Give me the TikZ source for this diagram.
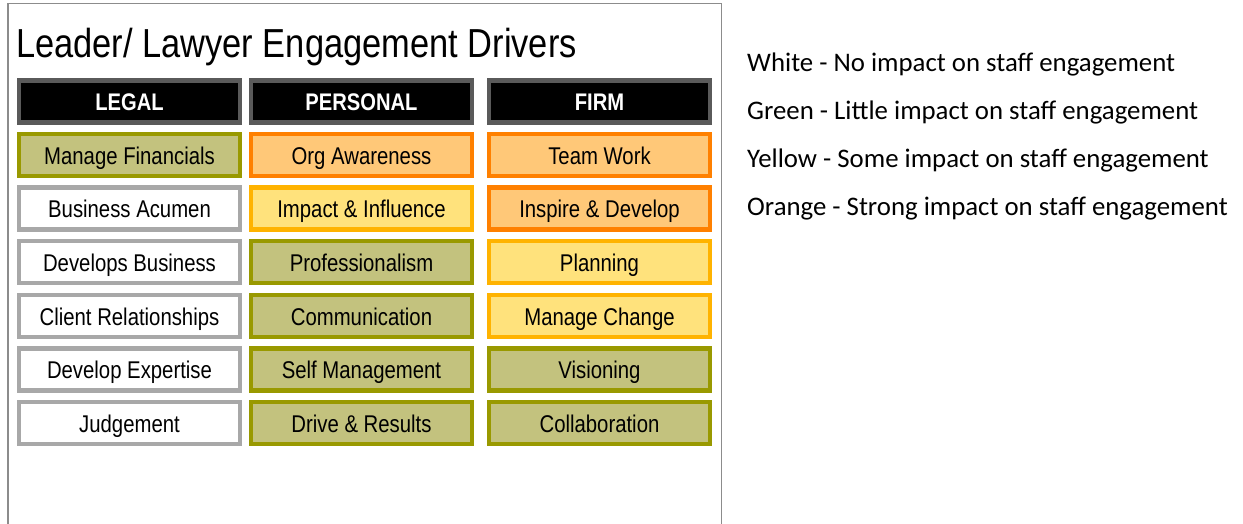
\documentclass[tikz,border=0pt]{standalone}
\usepackage{fontspec}
\setmainfont{Liberation Sans}
\newfontfamily\narrowfont[FakeStretch=0.84]{Liberation Sans}
\newfontfamily\titlefont[FakeStretch=0.85]{Liberation Sans}
\newfontfamily\legendfont{Carlito}

\definecolor{frameGray}{HTML}{8C8C8C}
\definecolor{headEdge}{HTML}{5A5A5A}
\definecolor{greenFill}{HTML}{C3C27E}
\definecolor{greenEdge}{HTML}{999900}
\definecolor{orangeFill}{HTML}{FFC878}
\definecolor{orangeEdge}{HTML}{FF8000}
\definecolor{yellowFill}{HTML}{FFE27C}
\definecolor{yellowEdge}{HTML}{FFB300}
\definecolor{whiteEdge}{HTML}{A8A8A8}

\tikzset{
  cell/.style={rectangle, line width=4.5pt, minimum width=221pt, minimum height=42pt,
    text height=18.5pt, text depth=0pt, inner sep=0pt,
    font=\narrowfont\fontsize{24.2}{24.2}\selectfont, text=black},
  headbox/.style={cell, fill=black, draw=headEdge, text=white,
    font=\narrowfont\bfseries\fontsize{24}{24}\selectfont},
  nobox/.style={cell, fill=white, draw=whiteEdge},
  greenbox/.style={cell, fill=greenFill, draw=greenEdge},
  orangebox/.style={cell, fill=orangeFill, draw=orangeEdge},
  yellowbox/.style={cell, fill=yellowFill, draw=yellowEdge},
  legendline/.style={anchor=base west, inner sep=0pt,
    font=\legendfont\fontsize{26.8}{26.8}\selectfont},
}

\begin{document}
\begin{tikzpicture}[x=1pt, y=-1pt]
  \useasboundingbox (0,0) rectangle (1243,524);

  % open frame around the driver table
  \draw[frameGray, line width=1.6pt] (8,524) -- (8,3.5) -- (721.5,3.5) -- (721.5,524);

  % title
  \node[anchor=base west, inner sep=0pt, font=\titlefont\fontsize{40.5}{40.5}\selectfont]
    (title) at (16,57.5) {Leader/ Lawyer Engagement Drivers};

  % column headers
  \node[headbox] (hLegal)    at (129.5,101.5) {LEGAL};
  \node[headbox] (hPersonal) at (361.5,101.5) {PERSONAL};
  \node[headbox] (hFirm)     at (599.5,101.5) {FIRM};

  % LEGAL column
  \node[greenbox] (l1) at (129.5,154.9) {Manage Financials};
  \node[nobox]    (l2) at (129.5,208.6) {Business Acumen};
  \node[nobox]    (l3) at (129.5,262.2) {Develops Business};
  \node[nobox]    (l4) at (129.5,315.9) {Client Relationships};
  \node[nobox]    (l5) at (129.5,369.5) {Develop Expertise};
  \node[nobox]    (l6) at (129.5,423.2) {Judgement};

  % PERSONAL column
  \node[orangebox] (p1) at (361.5,154.9) {Org Awareness};
  \node[yellowbox] (p2) at (361.5,208.6) {Impact \& Influence};
  \node[greenbox]  (p3) at (361.5,262.2) {Professionalism};
  \node[greenbox]  (p4) at (361.5,315.9) {Communication};
  \node[greenbox]  (p5) at (361.5,369.5) {Self Management};
  \node[greenbox]  (p6) at (361.5,423.2) {Drive \& Results};

  % FIRM column
  \node[orangebox] (f1) at (599.5,154.9) {Team Work};
  \node[orangebox] (f2) at (599.5,208.6) {Inspire \& Develop};
  \node[yellowbox] (f3) at (599.5,262.2) {Planning};
  \node[yellowbox] (f4) at (599.5,315.9) {Manage Change};
  \node[greenbox]  (f5) at (599.5,369.5) {Visioning};
  \node[greenbox]  (f6) at (599.5,423.2) {Collaboration};

  % colour key
  \node[legendline] (k1) at (747,71.5)  {White - No impact on staff engagement};
  \node[legendline] (k2) at (747,119.3) {Green - Little impact on staff engagement};
  \node[legendline] (k3) at (747,167.4) {Yellow - Some impact on staff engagement};
  \node[legendline] (k4) at (747,215.5) {Orange - Strong impact on staff engagement};
\end{tikzpicture}
\end{document}
